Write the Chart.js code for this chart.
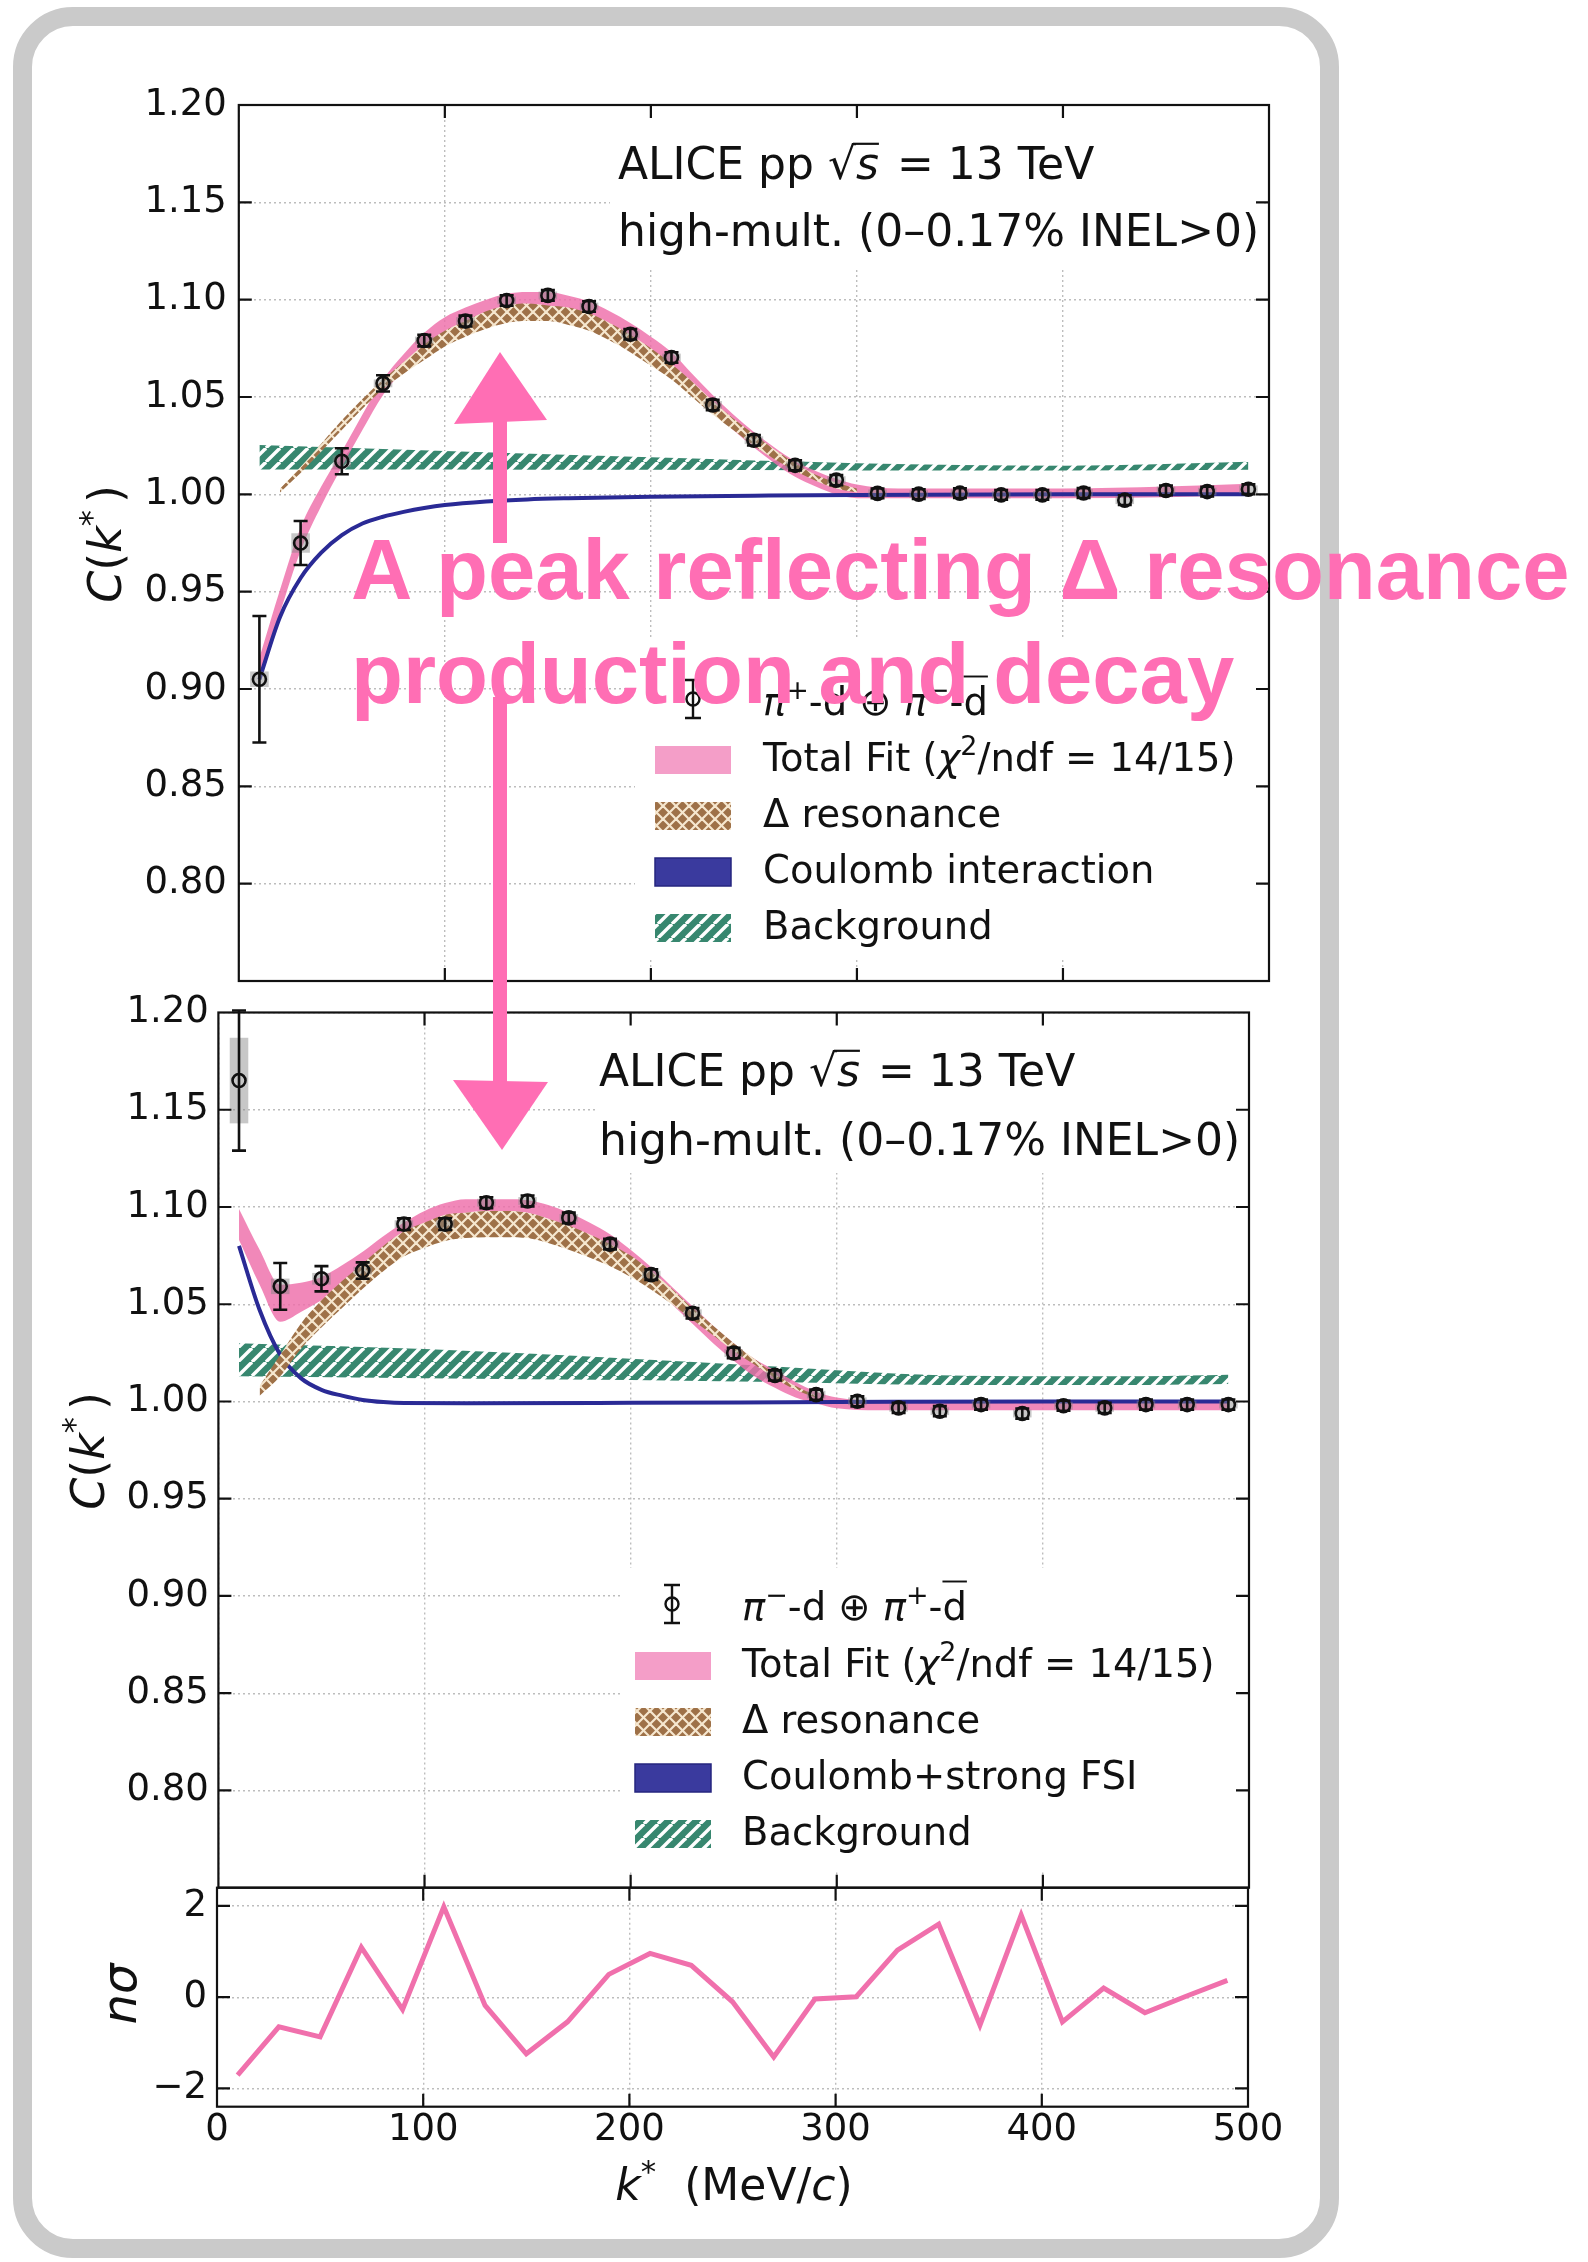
<!DOCTYPE html>
<html>
<head>
<meta charset="utf-8">
<title>pi-d correlation functions</title>
<script src="https://cdn.jsdelivr.net/npm/chart.js@4.4.1/dist/chart.umd.min.js"></script>
<style>
  html, body { margin: 0; padding: 0; background: #fff; }
  body { position: relative; width: 1588px; height: 2262px; overflow: hidden; }
  #frame { position: absolute; left: 13px; top: 7px; width: 1326px; height: 2251px; box-sizing: border-box;
           border: 19px solid #cacaca; border-radius: 60px; }
  canvas { position: absolute; left: 0; }
</style>
</head>
<body>
<div id="frame"></div>
<canvas id="cTop" width="1300" height="1020" style="top:0px"></canvas>
<canvas id="cMid" width="1300" height="960" style="top:970px"></canvas>
<canvas id="cRes" width="1300" height="392" style="top:1840px"></canvas>
<canvas id="note" width="1588" height="1200" style="top:0px"></canvas>
<script>
// k* bin centres of the measured points (MeV/c)
var kPts = [10, 30, 50, 70, 90, 110, 130, 150, 170, 190, 210, 230, 250, 270, 290, 310, 330, 350, 370, 390, 410, 430, 450, 470, 490];

// pi+ d (+) pi- dbar, upper panel
var plusC = [0.905, 0.975, 1.017, 1.057, 1.079, 1.089, 1.0996, 1.1022, 1.0965, 1.0822, 1.0703, 1.0459, 1.0278, 1.0149, 1.0073, 1.0005, 1.0001, 1.0006, 0.9997, 0.9997, 1.0007, 0.9970, 1.0020, 1.0014, 1.0026];
var plusStat = [0.0325, 0.0113, 0.0067, 0.0042, 0.003, 0.0028, 0.0027, 0.0027, 0.0027, 0.0027, 0.0027, 0.0027, 0.0027, 0.0026, 0.0026, 0.0025, 0.0025, 0.0025, 0.0025, 0.0025, 0.0025, 0.0025, 0.0025, 0.0025, 0.0025];
var plusSys = [0.004, 0.005, 0.003, 0.002, 0.002, 0.002, 0.002, 0.002, 0.002, 0.002, 0.002, 0.002, 0.002, 0.002, 0.002, 0.002, 0.002, 0.002, 0.002, 0.002, 0.002, 0.002, 0.002, 0.002, 0.002];

// pi- d (+) pi+ dbar, middle panel
var minusC = [1.165, 1.0592, 1.0631, 1.0673, 1.0912, 1.0912, 1.1022, 1.1031, 1.0944, 1.0809, 1.0652, 1.0454, 1.0249, 1.0134, 1.0035, 1.0001, 0.9967, 0.9950, 0.9984, 0.9938, 0.9978, 0.9967, 0.9984, 0.9984, 0.9984];
var minusStat = [0.036, 0.012, 0.0065, 0.0042, 0.003, 0.003, 0.0028, 0.0028, 0.0027, 0.0027, 0.0027, 0.0027, 0.0027, 0.0026, 0.0026, 0.0026, 0.0026, 0.0026, 0.0026, 0.0026, 0.0026, 0.0026, 0.0026, 0.0026, 0.0026];
var minusSys = [0.022, 0.004, 0.003, 0.002, 0.002, 0.002, 0.002, 0.002, 0.002, 0.002, 0.002, 0.002, 0.002, 0.002, 0.002, 0.002, 0.002, 0.002, 0.002, 0.002, 0.002, 0.002, 0.002, 0.002, 0.002];

// deviation in units of sigma, lower panel
var nSigma = [-1.71, -0.65, -0.87, 1.09, -0.27, 1.98, -0.18, -1.24, -0.54, 0.50, 0.96, 0.70, -0.10, -1.31, -0.04, 0.01, 1.03, 1.60, -0.61, 1.80, -0.54, 0.20, -0.34, 0.02, 0.37];

// total fit bands
var kFit = [10, 20, 30, 40, 50, 60, 70, 80, 90, 100, 110, 120, 130, 140, 150, 160, 170, 180, 190, 200, 210, 220, 230, 240, 250, 260, 270, 280, 290, 300, 320, 350, 400, 450, 490];
var fitTopLo = [0.904, 0.939, 0.971, 0.994, 1.014, 1.033, 1.051, 1.064, 1.075, 1.083, 1.088, 1.092, 1.095, 1.096, 1.096, 1.094, 1.091, 1.086, 1.080, 1.073, 1.065, 1.054, 1.043, 1.033, 1.024, 1.016, 1.009, 1.004, 1.000, 0.998, 0.998, 0.998, 0.998, 0.9985, 0.9995];
var fitTopHi = [0.916, 0.951, 0.983, 1.004, 1.022, 1.041, 1.059, 1.072, 1.083, 1.091, 1.096, 1.100, 1.103, 1.104, 1.104, 1.102, 1.099, 1.094, 1.088, 1.081, 1.073, 1.062, 1.051, 1.041, 1.032, 1.024, 1.017, 1.012, 1.008, 1.005, 1.003, 1.003, 1.003, 1.004, 1.0055];
var fitMidLo = [1.083, 1.060, 1.041, 1.046, 1.052, 1.058, 1.065, 1.073, 1.081, 1.089, 1.094, 1.097, 1.098, 1.098, 1.097, 1.094, 1.090, 1.084, 1.077, 1.069, 1.060, 1.050, 1.040, 1.030, 1.021, 1.013, 1.007, 1.002, 0.999, 0.9965, 0.9955, 0.9955, 0.9955, 0.9955, 0.9955];
var fitMidHi = [1.099, 1.078, 1.060, 1.061, 1.064, 1.070, 1.077, 1.085, 1.092, 1.098, 1.102, 1.104, 1.104, 1.104, 1.1035, 1.101, 1.097, 1.092, 1.086, 1.078, 1.069, 1.059, 1.049, 1.039, 1.030, 1.022, 1.016, 1.010, 1.005, 1.002, 1.0005, 1.0005, 1.0005, 1.0005, 1.0005];

// Delta resonance bands
var kDeltaTop = [20, 30, 40, 50, 60, 70, 80, 90, 100, 110, 120, 130, 140, 150, 160, 170, 180, 190, 200, 210, 220, 230, 240, 250, 260, 270, 280, 290, 300];
var deltaTopLo = [1.001, 1.011, 1.022, 1.033, 1.044, 1.054, 1.062, 1.069, 1.076, 1.081, 1.085, 1.088, 1.089, 1.089, 1.087, 1.084, 1.079, 1.073, 1.066, 1.059, 1.050, 1.041, 1.033, 1.025, 1.018, 1.012, 1.007, 1.003, 1.001];
var deltaTopHi = [1.003, 1.014, 1.026, 1.038, 1.049, 1.059, 1.068, 1.077, 1.084, 1.089, 1.094, 1.097, 1.098, 1.097, 1.096, 1.093, 1.088, 1.082, 1.075, 1.067, 1.058, 1.048, 1.039, 1.031, 1.023, 1.016, 1.010, 1.006, 1.003];
var kDeltaMid = [20, 30, 40, 50, 60, 70, 80, 90, 100, 110, 120, 130, 140, 150, 160, 170, 180, 190, 200, 210, 220, 230, 240, 250, 260, 270, 280, 290];
var deltaMidLo = [1.003, 1.013, 1.027, 1.038, 1.048, 1.058, 1.067, 1.0745, 1.079, 1.0825, 1.084, 1.0845, 1.0845, 1.084, 1.0815, 1.078, 1.074, 1.0695, 1.064, 1.0575, 1.050, 1.042, 1.034, 1.026, 1.019, 1.012, 1.006, 1.002];
var deltaMidHi = [1.008, 1.024, 1.040, 1.052, 1.062, 1.071, 1.080, 1.0875, 1.092, 1.096, 1.097, 1.098, 1.098, 1.097, 1.094, 1.0905, 1.086, 1.081, 1.075, 1.067, 1.058, 1.048, 1.039, 1.030, 1.022, 1.014, 1.008, 1.003];

// Coulomb curves
var kCoulTop = [10, 20, 30, 40, 50, 60, 70, 80, 90, 100, 120, 140, 160, 200, 250, 300, 400, 490];
var coulTop = [0.905, 0.937, 0.957, 0.970, 0.979, 0.985, 0.9885, 0.991, 0.993, 0.9945, 0.9963, 0.9974, 0.998, 0.9988, 0.9993, 0.9997, 1.0, 1.0];
var kCoulMid = [10, 20, 30, 40, 50, 60, 70, 80, 90, 120, 200, 300, 400, 490];
var coulMid = [1.080, 1.047, 1.024, 1.012, 1.006, 1.003, 1.0008, 0.9997, 0.9992, 0.9991, 0.9993, 0.9997, 1.0, 1.0];

// background bands
var kBkgTop = [10, 100, 200, 300, 400, 490];
var bkgTopLo = [1.0128, 1.0128, 1.0126, 1.0123, 1.0122, 1.0126];
var bkgTopHi = [1.0253, 1.0222, 1.0190, 1.0160, 1.0147, 1.0167];
var kBkgMid = [10, 100, 200, 270, 350, 400, 450, 490];
var bkgMidLo = [1.013, 1.012, 1.011, 1.010, 1.0085, 1.0085, 1.0085, 1.009];
var bkgMidHi = [1.030, 1.027, 1.022, 1.018, 1.0135, 1.013, 1.013, 1.0137];

// ticks
var kTicks = [0, 100, 200, 300, 400, 500];
var cTicks = [0.80, 0.85, 0.90, 0.95, 1.00, 1.05, 1.10, 1.15, 1.20];
var nTicks = [-2, 0, 2];

// texts
var aliceLine1 = [{ t: 'ALICE pp ' }, { t: '\u221A' }, { t: 's', it: 1, over: 0.8, overStart: -3, gap: 4 }, { t: ' = 13 TeV' }];
var aliceLine2 = [{ t: 'high-mult. (0\u20130.17% INEL>0)' }];
var legendTop = [
  [{ t: '\u03C0', it: 1 }, { t: '+', sup: 1 }, { t: '-d \u2295 ' }, { t: '\u03C0', it: 1 }, { t: '\u2212', sup: 1 }, { t: '-' }, { t: 'd', over: 1.0 }],
  [{ t: 'Total Fit (' }, { t: '\u03C7', it: 1 }, { t: '2', sup: 1 }, { t: '/ndf = 14/15)' }],
  [{ t: '\u0394 resonance' }],
  [{ t: 'Coulomb interaction' }],
  [{ t: 'Background' }]
];
var legendMid = [
  [{ t: '\u03C0', it: 1 }, { t: '\u2212', sup: 1 }, { t: '-d \u2295 ' }, { t: '\u03C0', it: 1 }, { t: '+', sup: 1 }, { t: '-' }, { t: 'd', over: 1.0 }],
  [{ t: 'Total Fit (' }, { t: '\u03C7', it: 1 }, { t: '2', sup: 1 }, { t: '/ndf = 14/15)' }],
  [{ t: '\u0394 resonance' }],
  [{ t: 'Coulomb+strong FSI' }],
  [{ t: 'Background' }]
];
var cTitle = [{ t: 'C', it: 1 }, { t: '(' }, { t: 'k', it: 1 }, { t: '*', sup: 1, gap: 7 }, { t: ')' }];
var nTitle = [{ t: 'n\u03C3', it: 1 }];
var kTitle = [{ t: 'k', it: 1 }, { t: '*', sup: 1, gap: 14 }, { t: ' (MeV/' }, { t: 'c', it: 1 }, { t: ')' }];

var FONT = '"DejaVu Sans", sans-serif';
var GRID = '#bdbdbd';
var PINK = 'rgba(238,110,170,0.82)';
var PINK_LEG = 'rgba(240,125,182,0.75)';
var BLUE = '#2a2a95';
var BLUE_LEG = '#3a3a9e';

Chart.defaults.font.family = FONT;
Chart.defaults.color = '#111';

function xy(xs, ys) {
  return xs.map(function (x, i) { return { x: x, y: ys[i] }; });
}

function hatch(ctx, bg, fg, size, lw, dirs) {
  var c = document.createElement('canvas');
  c.width = size; c.height = size;
  var g = c.getContext('2d');
  g.fillStyle = bg; g.fillRect(0, 0, size, size);
  g.strokeStyle = fg; g.lineWidth = lw;
  dirs.forEach(function (d) {
    for (var o = -size; o <= size; o += size) {
      g.beginPath();
      if (d === '/') { g.moveTo(o, size); g.lineTo(o + size, 0); }
      else { g.moveTo(o, 0); g.lineTo(o + size, size); }
      g.stroke();
    }
  });
  return ctx.createPattern(c, 'repeat');
}

function band(xs, hi, lo, fill, order) {
  return [
    { data: xy(xs, hi), fill: '+1', backgroundColor: fill, borderColor: 'rgba(0,0,0,0)', borderWidth: 0,
      pointRadius: 0, cubicInterpolationMode: 'monotone', order: order },
    { data: xy(xs, lo), fill: false, borderColor: 'rgba(0,0,0,0)', borderWidth: 0,
      pointRadius: 0, cubicInterpolationMode: 'monotone', order: order }
  ];
}

function pointsSet(xs, ys) {
  return { data: xy(xs, ys), showLine: false, pointRadius: 6.5, pointBorderWidth: 2.6,
           pointBorderColor: '#111', pointBackgroundColor: 'rgba(0,0,0,0)', order: 0 };
}

function drawRich(ctx, x, y, parts, size, align) {
  ctx.save();
  ctx.textBaseline = 'alphabetic';
  ctx.textAlign = 'left';
  var segs = parts.map(function (pt) {
    var fs = pt.sup ? size * 0.7 : size;
    var f = (pt.it ? 'italic ' : '') + fs + 'px ' + FONT;
    ctx.font = f;
    return { p: pt, f: f, w: ctx.measureText(pt.t).width };
  });
  var total = 0;
  segs.forEach(function (s) { total += s.w + (s.p.gap || 0); });
  var cx = align === 'center' ? x - total / 2 : x;
  segs.forEach(function (s) {
    ctx.font = s.f;
    var dy = s.p.sup ? -size * 0.42 : 0;
    ctx.fillText(s.p.t, cx, y + dy);
    if (s.p.over) {
      ctx.lineWidth = Math.max(1.6, size * 0.05);
      ctx.beginPath();
      ctx.moveTo(cx + (s.p.overStart || 0), y - size * s.p.over);
      ctx.lineTo(cx + s.w, y - size * s.p.over);
      ctx.stroke();
    }
    cx += s.w + (s.p.gap || 0);
  });
  ctx.restore();
}

function drawSys(chart, s) {
  var ctx = chart.ctx, xs = chart.scales.x, ys = chart.scales.y;
  ctx.save();
  ctx.fillStyle = 'rgba(130,130,130,0.45)';
  s.k.forEach(function (k, i) {
    var x0 = xs.getPixelForValue(k - 4.5), x1 = xs.getPixelForValue(k + 4.5);
    var y0 = ys.getPixelForValue(s.c[i] + s.sys[i]), y1 = ys.getPixelForValue(s.c[i] - s.sys[i]);
    ctx.fillRect(x0, y0, x1 - x0, y1 - y0);
  });
  ctx.restore();
}

function drawErrors(chart, s) {
  var ctx = chart.ctx, xs = chart.scales.x, ys = chart.scales.y;
  ctx.save();
  ctx.strokeStyle = '#111';
  ctx.lineWidth = 2.6;
  s.k.forEach(function (k, i) {
    var x = xs.getPixelForValue(k);
    var yt = ys.getPixelForValue(s.c[i] + s.stat[i]), yb = ys.getPixelForValue(s.c[i] - s.stat[i]);
    ctx.beginPath();
    ctx.moveTo(x, yt); ctx.lineTo(x, yb);
    ctx.moveTo(x - 7, yt); ctx.lineTo(x + 7, yt);
    ctx.moveTo(x - 7, yb); ctx.lineTo(x + 7, yb);
    ctx.stroke();
  });
  ctx.restore();
}

function drawFrame(chart, p) {
  var ctx = chart.ctx, a = chart.chartArea, xs = chart.scales.x, ys = chart.scales.y, L = 13;
  ctx.save();
  ctx.strokeStyle = '#111';
  ctx.lineWidth = 2.2;
  ctx.strokeRect(a.left, a.top, a.right - a.left, a.bottom - a.top);
  ctx.beginPath();
  kTicks.forEach(function (v) {
    if (v <= xs.min || v >= xs.max) return;
    var x = xs.getPixelForValue(v);
    ctx.moveTo(x, a.bottom); ctx.lineTo(x, a.bottom - L);
    ctx.moveTo(x, a.top); ctx.lineTo(x, a.top + L);
  });
  p.yTicks.forEach(function (v) {
    if (v <= ys.min + 1e-9 || v >= ys.max - 1e-9) return;
    var y = ys.getPixelForValue(v);
    ctx.moveTo(a.left, y); ctx.lineTo(a.left + L, y);
    ctx.moveTo(a.right, y); ctx.lineTo(a.right - L, y);
  });
  ctx.stroke();
  ctx.restore();
}

function drawLegend(ctx, p) {
  var L = p.legend;
  var rows = L.rows.map(function (r) { return r - p.top; });
  ctx.save();
  ctx.strokeStyle = '#111';
  ctx.lineWidth = 2.4;
  var mx = L.marker, my = rows[0] - 16;
  ctx.beginPath();
  ctx.moveTo(mx, my - 19); ctx.lineTo(mx, my + 19);
  ctx.moveTo(mx - 8, my - 19); ctx.lineTo(mx + 8, my - 19);
  ctx.moveTo(mx - 8, my + 19); ctx.lineTo(mx + 8, my + 19);
  ctx.stroke();
  ctx.beginPath(); ctx.arc(mx, my, 6.5, 0, Math.PI * 2); ctx.stroke();
  var fills = [PINK_LEG, p.cross, BLUE_LEG, p.teal];
  fills.forEach(function (f, i) {
    ctx.fillStyle = f;
    ctx.fillRect(L.patch, rows[i + 1] - 25, 76, 28);
  });
  ctx.strokeStyle = '#26267f';
  ctx.lineWidth = 1.5;
  ctx.strokeRect(L.patch, rows[3] - 25, 76, 28);
  ctx.fillStyle = '#111';
  ctx.strokeStyle = '#111';
  L.labels.forEach(function (parts, i) { drawRich(ctx, L.text, rows[i], parts, 38.5); });
  ctx.restore();
}

function panelPlugin(p) {
  return {
    id: 'panel',
    beforeDatasetsDraw: function (chart) {
      var ctx = chart.ctx;
      ctx.save();
      ctx.fillStyle = '#fff';
      (p.boxes || []).forEach(function (b) { ctx.fillRect(b[0], b[1] - p.top, b[2] - b[0], b[3] - b[1]); });
      ctx.restore();
    },
    beforeDatasetDraw: function (chart, args) {
      // systematic boxes go just below the markers (dataset 0)
      if (p.pts && args.index === 0) drawSys(chart, p.pts);
    },
    afterDatasetsDraw: function (chart) {
      if (p.pts) drawErrors(chart, p.pts);
    },
    afterDraw: function (chart) {
      var ctx = chart.ctx;
      drawFrame(chart, p);
      ctx.save();
      ctx.fillStyle = '#111';
      ctx.strokeStyle = '#111';
      if (p.alice) {
        drawRich(ctx, p.alice.x, p.alice.y1 - p.top, aliceLine1, 44);
        drawRich(ctx, p.alice.x, p.alice.y2 - p.top, aliceLine2, 44);
      }
      if (p.legend) drawLegend(ctx, p);
      p.titles.forEach(function (t) {
        ctx.save();
        ctx.translate(t.x, t.y - p.top);
        if (t.rot) ctx.rotate(-Math.PI / 2);
        drawRich(ctx, 0, 0, t.parts, t.size, 'center');
        ctx.restore();
      });
      ctx.restore();
    }
  };
}

function makePanel(p) {
  var ctx = document.getElementById(p.canvas).getContext('2d');
  p.cross = hatch(ctx, '#9e7148', '#f6e7cf', 13, 2.2, ['/', '\\']);
  p.teal = hatch(ctx, '#37876f', '#ffffff', 14, 3.4, ['/']);
  return new Chart(ctx, {
    type: 'line',
    data: { datasets: p.sets(p) },
    options: {
      responsive: false,
      animation: false,
      events: [],
      layout: { padding: p.pad },
      plugins: { legend: { display: false }, tooltip: { enabled: false } },
      scales: {
        x: {
          type: 'linear', min: 0, max: 500,
          afterBuildTicks: function (s) { s.ticks = kTicks.map(function (v) { return { value: v }; }); },
          afterFit: function (s) { s.height = p.xH; },
          grid: { color: GRID, lineWidth: 1.4, drawTicks: false },
          border: { display: false, dash: [2, 3] },
          ticks: { display: p.xLabels, padding: 1, maxRotation: 0, autoSkip: false,
                   font: { size: 37 }, color: '#111' }
        },
        y: {
          type: 'linear', min: p.ymin, max: p.ymax,
          afterBuildTicks: function (s) { s.ticks = p.yTicks.map(function (v) { return { value: v }; }); },
          afterFit: function (s) { s.width = p.yW; },
          grid: { color: GRID, lineWidth: 1.4, drawTicks: false },
          border: { display: false, dash: [2, 3] },
          ticks: { padding: p.yPad, font: { size: 37 }, color: '#111', callback: p.yFmt }
        }
      }
    },
    plugins: [panelPlugin(p)]
  });
}

function fmtC(v) { return v.toFixed(2); }
function fmtN(v) { return v < 0 ? '\u2212' + (-v) : String(v); }

makePanel({
  canvas: 'cTop', top: 0, pad: { left: 0, right: 31, top: 105, bottom: 39 },
  yW: 238.8, xH: 0, yPad: 12, ymin: 0.75, ymax: 1.2, yTicks: cTicks, yFmt: fmtC, xLabels: false,
  boxes: [[610, 118, 1262, 268], [635, 640, 1262, 958]],
  alice: { x: 618, y1: 179, y2: 246 },
  legend: { marker: 693, patch: 655, text: 763, rows: [715, 771, 827, 883, 939], labels: legendTop },
  titles: [{ x: 121, y: 544, rot: 1, size: 46, parts: cTitle }],
  pts: { k: kPts, c: plusC, stat: plusStat, sys: plusSys },
  sets: function (p) {
    return [pointsSet(kPts, plusC)]
      .concat(band(kDeltaTop, deltaTopHi, deltaTopLo, p.cross, 1))
      .concat([{ data: xy(kCoulTop, coulTop), borderColor: BLUE, borderWidth: 4, pointRadius: 0,
                 fill: false, cubicInterpolationMode: 'monotone', order: 2 }])
      .concat(band(kFit, fitTopHi, fitTopLo, PINK, 3))
      .concat(band(kBkgTop, bkgTopHi, bkgTopLo, p.teal, 4));
  }
});

makePanel({
  canvas: 'cMid', top: 970, pad: { left: 0, right: 51, top: 42.5, bottom: 42.3 },
  yW: 218.4, xH: 0, yPad: 9.5, ymin: 0.75, ymax: 1.2, yTicks: cTicks, yFmt: fmtC, xLabels: false,
  boxes: [[595, 1022, 1245, 1173], [620, 1568, 1245, 1870]],
  alice: { x: 599, y1: 1086, y2: 1155 },
  legend: { marker: 672, patch: 635, text: 742, rows: [1620, 1677, 1733, 1789, 1845], labels: legendMid },
  titles: [{ x: 104, y: 1451, rot: 1, size: 46, parts: cTitle }],
  pts: { k: kPts, c: minusC, stat: minusStat, sys: minusSys },
  sets: function (p) {
    return [pointsSet(kPts, minusC)]
      .concat(band(kDeltaMid, deltaMidHi, deltaMidLo, p.cross, 1))
      .concat([{ data: xy(kCoulMid, coulMid), borderColor: BLUE, borderWidth: 4, pointRadius: 0,
                 fill: false, cubicInterpolationMode: 'monotone', order: 2 }])
      .concat(band(kFit, fitMidHi, fitMidLo, PINK, 3))
      .concat(band(kBkgMid, bkgMidHi, bkgMidLo, p.teal, 4));
  }
});

makePanel({
  canvas: 'cRes', top: 1840, pad: { left: 0, right: 52, top: 47.7, bottom: 0 },
  yW: 217, xH: 125.3, yPad: 10, ymin: -2.4, ymax: 2.4, yTicks: nTicks, yFmt: fmtN, xLabels: true,
  boxes: [],
  titles: [{ x: 136, y: 1994, rot: 1, size: 48, parts: nTitle },
           { x: 734, y: 2200, rot: 0, size: 44, parts: kTitle }],
  sets: function () {
    return [{ data: xy(kPts, nSigma), borderColor: 'rgb(240,112,172)', borderWidth: 5, pointRadius: 0,
              fill: false, tension: 0, borderJoinStyle: 'miter' }];
  }
});

// hand-drawn annotation on top of the figure
var n = document.getElementById('note').getContext('2d');
n.fillStyle = '#ff6eb4';
n.beginPath(); n.moveTo(500, 352); n.lineTo(547, 420); n.lineTo(454, 424); n.closePath(); n.fill();
n.fillRect(493, 418, 14, 125);
n.fillRect(493, 697, 14, 386);
n.beginPath(); n.moveTo(453, 1080); n.lineTo(548, 1082); n.lineTo(502, 1150); n.closePath(); n.fill();
n.font = 'bold 85px "Liberation Sans", Arial, sans-serif';
n.textBaseline = 'alphabetic';
n.fillText('A peak reflecting \u0394 resonance', 351, 599);
n.fillText('production and decay', 351, 703);
</script>
</body>
</html>
